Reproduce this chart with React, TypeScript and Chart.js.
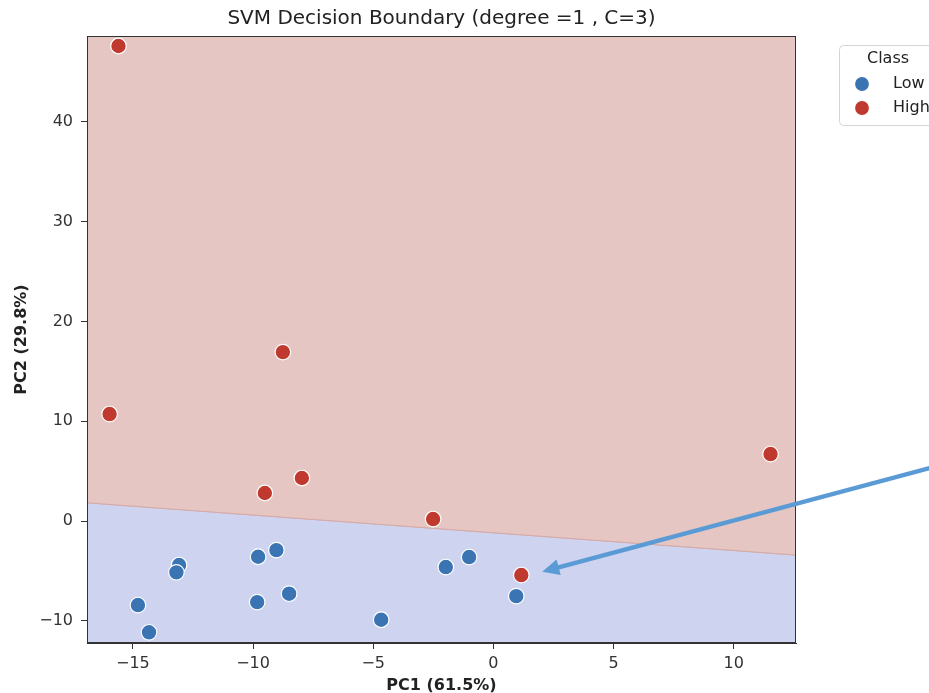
import React, { useEffect, useRef } from 'react';
import { Chart, registerables } from 'chart.js';
Chart.register(...registerables);

const lowX = [-13.08, -13.19, -14.79, -14.33, -9.79, -9.03, -9.83, -8.5, -4.67, -1.98, -1.01, 0.95];
const lowY = [-4.41, -5.14, -8.42, -11.15, -3.58, -2.91, -8.12, -7.28, -9.89, -4.61, -3.61, -7.52];
const highX = [-15.6, -15.97, -8.76, -9.51, -7.97, -2.51, 11.53, 1.16];
const highY = [47.6, 10.72, 16.93, 2.81, 4.31, 0.2, 6.71, -5.41];
const boundaryX = [-16.91, 12.59];
const boundaryY = [1.83, -3.41];
const xTicks = [-15, -10, -5, 0, 5, 10];
const yTicks = [-10, 0, 10, 20, 30, 40];
const xRange = [-16.91, 12.59];
const yRange = [-12.22, 48.6];
const arrowFrom = [18.15, 5.31];
const arrowTo = [2.03, -5.08];
const classNames = ['Low', 'High'];
const titleText = 'SVM Decision Boundary (degree =1 , C=3)';
const xLabel = 'PC1 (61.5%)';
const yLabel = 'PC2 (29.8%)';

const BLUE = '#3a74b2';
const RED = '#c0392e';
const FONT = '"DejaVu Sans", sans-serif';

const fmt = (v: number) => (v < 0 ? '\u2212' + Math.abs(v) : String(v));

const decor = {
  id: 'decor',
  afterDraw(chart: any) {
    const { ctx, chartArea: a, scales } = chart;
    const xs = scales.x, ys = scales.y;
    ctx.save();
    // frame
    ctx.strokeStyle = '#333';
    ctx.lineWidth = 1;
    ctx.strokeRect(a.left + 0.5, a.top + 0.5, a.right - a.left - 1, a.bottom - a.top - 1);
    // title
    ctx.fillStyle = '#222';
    ctx.textAlign = 'center';
    ctx.textBaseline = 'middle';
    ctx.font = `20px ${FONT}`;
    ctx.fillText(titleText, (a.left + a.right) / 2, 19);
    // axis labels
    ctx.font = `bold 16px ${FONT}`;
    ctx.fillText(xLabel, (a.left + a.right) / 2, 686);
    ctx.save();
    ctx.translate(22, (a.top + a.bottom) / 2);
    ctx.rotate(-Math.PI / 2);
    ctx.fillText(yLabel, 0, 0);
    ctx.restore();
    // legend
    const lx = 839, ly = 45, lw = 130, lh = 80;
    ctx.beginPath();
    ctx.roundRect(lx + 0.5, ly + 0.5, lw, lh, 4);
    ctx.fillStyle = 'rgba(255,255,255,0.9)';
    ctx.fill();
    ctx.lineWidth = 1;
    ctx.strokeStyle = '#d5d5d5';
    ctx.stroke();
    ctx.fillStyle = '#222';
    ctx.font = `16px ${FONT}`;
    ctx.textAlign = 'center';
    ctx.fillText('Class', 888, 59);
    const cols = [BLUE, RED];
    classNames.forEach((n, i) => {
      const yy = 84 + i * 24;
      ctx.beginPath();
      ctx.arc(862, yy, 7.5, 0, Math.PI * 2);
      ctx.fillStyle = cols[i];
      ctx.fill();
      ctx.lineWidth = 1.2;
      ctx.strokeStyle = '#fff';
      ctx.stroke();
      ctx.fillStyle = '#222';
      ctx.textAlign = 'left';
      ctx.fillText(n, 893, yy);
    });
    // arrow
    const x1 = xs.getPixelForValue(arrowFrom[0]);
    const y1 = ys.getPixelForValue(arrowFrom[1]);
    const x2 = xs.getPixelForValue(arrowTo[0]);
    const y2 = ys.getPixelForValue(arrowTo[1]);
    const ang = Math.atan2(y2 - y1, x2 - x1);
    const hl = 17, hw = 8;
    const bx = x2 - hl * Math.cos(ang), by = y2 - hl * Math.sin(ang);
    ctx.strokeStyle = '#5b9bd5';
    ctx.fillStyle = '#5b9bd5';
    ctx.lineWidth = 4.5;
    ctx.beginPath();
    ctx.moveTo(x1, y1);
    ctx.lineTo(bx + 2 * Math.cos(ang), by + 2 * Math.sin(ang));
    ctx.stroke();
    ctx.beginPath();
    ctx.moveTo(x2, y2);
    ctx.lineTo(bx + hw * Math.sin(ang), by - hw * Math.cos(ang));
    ctx.lineTo(bx - hw * Math.sin(ang), by + hw * Math.cos(ang));
    ctx.closePath();
    ctx.fill();
    ctx.restore();
  },
};

export default function App() {
  const ref = useRef<HTMLCanvasElement>(null);
  useEffect(() => {
    document.body.style.margin = '0';
    const bnd = boundaryX.map((x, i) => ({ x, y: boundaryY[i] }));
    const chart = new Chart(ref.current as HTMLCanvasElement, {
      type: 'scatter',
      data: {
        datasets: [
          {
            data: lowX.map((x, i) => ({ x, y: lowY[i] })),
            backgroundColor: BLUE,
            borderColor: '#ffffff',
            borderWidth: 1.2,
            pointRadius: 7.8,
            order: 1,
          } as any,
          {
            data: highX.map((x, i) => ({ x, y: highY[i] })),
            backgroundColor: RED,
            borderColor: '#ffffff',
            borderWidth: 1.2,
            pointRadius: 7.8,
            order: 0,
          } as any,
          {
            type: 'line',
            data: bnd,
            showLine: true,
            borderColor: '#d6a9a6',
            borderWidth: 1,
            pointRadius: 0,
            fill: 'end',
            backgroundColor: '#e5c6c3',
            order: 10,
          } as any,
          {
            type: 'line',
            data: bnd,
            showLine: true,
            borderColor: '#d6a9a6',
            borderWidth: 1,
            pointRadius: 0,
            fill: 'start',
            backgroundColor: '#ced3f0',
            order: 11,
          } as any,
        ],
      },
      options: {
        responsive: false,
        animation: false,
        events: [],
        layout: { padding: { left: 0, right: 133, top: 36, bottom: 0 } },
        plugins: { legend: { display: false }, tooltip: { enabled: false }, title: { display: false } },
        scales: {
          x: {
            type: 'linear',
            min: xRange[0],
            max: xRange[1],
            afterBuildTicks: (s: any) => { s.ticks = xTicks.map((v) => ({ value: v })); },
            afterFit: (s: any) => { s.height = 50; },
            grid: { display: true, drawOnChartArea: false, drawTicks: true, tickLength: 6, color: '#333' },
            border: { display: true, color: '#333' },
            ticks: { callback: (v: any) => fmt(Number(v)), color: '#333', font: { family: FONT, size: 16 }, padding: 5, maxRotation: 0, autoSkip: false },
          },
          y: {
            type: 'linear',
            min: yRange[0],
            max: yRange[1],
            afterBuildTicks: (s: any) => { s.ticks = yTicks.map((v) => ({ value: v })); },
            afterFit: (s: any) => { s.width = 87; },
            grid: { display: true, drawOnChartArea: false, drawTicks: true, tickLength: 6, color: '#333' },
            border: { display: true, color: '#333' },
            ticks: { callback: (v: any) => fmt(Number(v)), color: '#333', font: { family: FONT, size: 16 }, padding: 8, autoSkip: false },
          },
        },
      },
      plugins: [decor],
    } as any);
    return () => chart.destroy();
  }, []);
  return <canvas ref={ref} width={929} height={693} style={{ display: 'block', width: 929, height: 693 }} />;
}
